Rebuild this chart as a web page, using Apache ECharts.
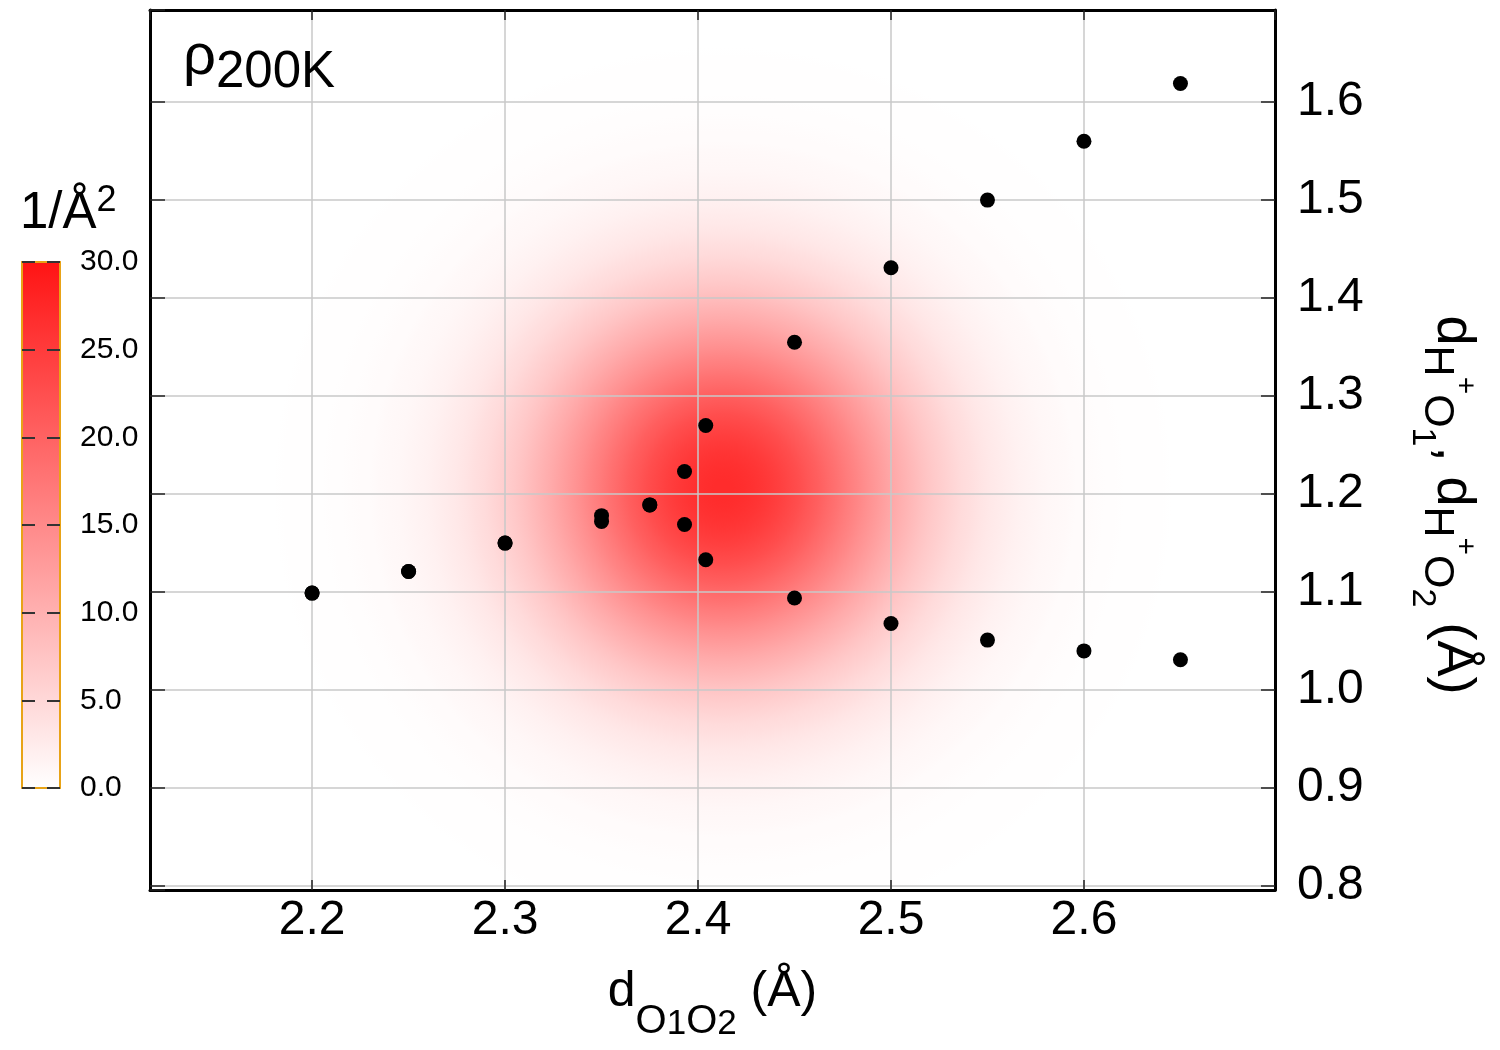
<!DOCTYPE html>
<html>
<head>
<meta charset="utf-8">
<script src="https://cdn.jsdelivr.net/npm/echarts@6/dist/echarts.min.js"></script>
<style>
html,body{margin:0;padding:0;background:#fff;}
#chart{width:1500px;height:1050px;}
</style>
</head>
<body>
<div id="chart"></div>
<script>
// ---- data ----
const dOO  = [2.200, 2.250, 2.300, 2.350, 2.375, 2.393, 2.404, 2.450, 2.500, 2.550, 2.600, 2.650];
const dHO1 = [1.099, 1.121, 1.150, 1.172, 1.189, 1.169, 1.133, 1.094, 1.068, 1.051, 1.040, 1.031];
const dHO2 = [1.099, 1.121, 1.150, 1.178, 1.189, 1.223, 1.270, 1.355, 1.431, 1.500, 1.560, 1.619];
const xRange = [2.116, 2.699];
const yRange = [0.796, 1.694];
// density (rho at 200K): centre, spread, peak
const densityCenter = [2.413, 1.205];
const densitySigma  = [0.066, 0.128];
const densityPeak   = 27;
// colour bar
const cbarMin = 0, cbarMax = 30, cbarStep = 5;
const cmapLow = [255, 255, 255], cmapHigh = [255, 20, 20];

const FONT = 'Liberation Sans';
const fmt1 = v => (Math.round(v * 10) / 10).toFixed(1);

function cmap(v) {
  const f = Math.max(0, Math.min(1, (v - cbarMin) / (cbarMax - cbarMin)));
  const c = cmapLow.map((lo, i) => Math.round(lo + (cmapHigh[i] - lo) * f));
  return 'rgb(' + c.join(',') + ')';
}

const points = [];
dOO.forEach((x, i) => { points.push([x, dHO1[i]]); points.push([x, dHO2[i]]); });

const SPAN = 3.6; // gradient radius in sigmas
function densityStops() {
  const stops = [];
  const n = 48;
  for (let i = 0; i <= n; i++) {
    const t = i / n;
    const r = t * SPAN;
    const v = densityPeak * Math.exp(-r * r / 2);
    stops.push({ offset: t, color: cmap(v) });
  }
  return stops;
}

const frameLine = { show: true, onZero: false, lineStyle: { color: '#000', width: 3 } };
const mainTick = len => ({ show: true, inside: true, length: len, lineStyle: { color: '#222', width: 1.5 } });
const grey = { show: true, lineStyle: { color: '#c8c8c8', width: 1.5 } };
const orange = '#e8a317';
const txt = (size, extra) => Object.assign({ fontSize: size, color: '#000', fontFamily: FONT, fontWeight: 'normal' }, extra || {});

const chart = echarts.init(document.getElementById('chart'));
const option = {
  animation: false,
  backgroundColor: '#ffffff',
  textStyle: { fontFamily: FONT },
  title: [
    { text: '{r|ρ}{s|200K}', left: 178, top: 12,
      textStyle: { fontFamily: FONT, fontWeight: 'normal', rich: {
        r: txt(58),
        s: txt(51, { padding: [30, 0, 0, 0] }) } } },
    { text: '{m|1/Å}{p|2}', left: 15, top: 178,
      textStyle: { fontFamily: FONT, fontWeight: 'normal', rich: {
        m: txt(51),
        p: txt(36, { padding: [0, 0, 26, 0] }) } } }
  ],
  grid: [
    { left: 150, right: 225, top: 10, bottom: 160, outerBoundsMode: 'none', containLabel: false },
    { left: 22, top: 262, width: 38, height: 526, outerBoundsMode: 'none', containLabel: false }
  ],
  xAxis: [
    { gridIndex: 0, type: 'value', min: xRange[0], max: xRange[1], splitNumber: 6, position: 'bottom', z: 3,
      axisLine: frameLine, axisTick: mainTick(10), splitLine: grey,
      axisLabel: { fontSize: 48, color: '#000', margin: 7, fontFamily: FONT, formatter: fmt1, showMinLabel: false, showMaxLabel: false },
      name: '{m|d}{s|O}{n|1}{s|O}{n|2}{m| (Å)}', nameLocation: 'middle', nameGap: 52,
      nameTextStyle: { rich: {
        m: txt(50),
        s: txt(40, { padding: [60, 0, 0, 0] }),
        n: txt(35, { padding: [64, 0, 0, 0] }) } } },
    { gridIndex: 0, type: 'value', min: xRange[0], max: xRange[1], splitNumber: 6, position: 'top', z: 3,
      axisLine: frameLine, axisTick: mainTick(10), splitLine: { show: false }, axisLabel: { show: false } },
    { gridIndex: 1, type: 'category', data: ['cbar'], position: 'bottom', z: 3,
      axisLine: { show: true, onZero: false, lineStyle: { color: orange, width: 2 } },
      axisTick: { show: false }, axisLabel: { show: false }, splitLine: { show: false } },
    { gridIndex: 1, type: 'category', data: ['cbar'], position: 'top', z: 3,
      axisLine: { show: true, onZero: false, lineStyle: { color: orange, width: 2 } },
      axisTick: { show: false }, axisLabel: { show: false }, splitLine: { show: false } }
  ],
  yAxis: [
    { gridIndex: 0, type: 'value', min: yRange[0], max: yRange[1], splitNumber: 9, position: 'left', z: 3,
      axisLine: frameLine, axisTick: mainTick(15), splitLine: { show: false }, axisLabel: { show: false } },
    { gridIndex: 0, type: 'value', min: yRange[0], max: yRange[1], splitNumber: 9, position: 'right', z: 3,
      axisLine: frameLine, axisTick: mainTick(14), splitLine: grey,
      axisLabel: { fontSize: 48, color: '#000', margin: 22, fontFamily: FONT, formatter: fmt1, showMinLabel: false, showMaxLabel: false },
      name: '{m|d}{s|H}{p|+}{s|O}{ss|1}{m|, d}{s|H}{p|+}{s|O}{ss|2}{m| (Å)}',
      nameLocation: 'middle', nameRotate: -90, nameGap: 130,
      nameTextStyle: { padding: [0, 0, 0, 110], rich: {
        m: txt(54),
        s: txt(43, { padding: [32, 0, 0, 0] }),
        ss: txt(34, { padding: [62, 0, 0, 0] }),
        p: txt(30, { padding: [0, 0, 22, 0] }) } } },
    { gridIndex: 1, type: 'value', min: cbarMin, max: cbarMax, interval: cbarStep, position: 'left', z: 3,
      axisLine: { show: true, onZero: false, lineStyle: { color: orange, width: 2 } },
      axisTick: { show: true, inside: true, length: 13, lineStyle: { color: '#333', width: 2 } },
      axisLabel: { show: false }, splitLine: { show: false } },
    { gridIndex: 1, type: 'value', min: cbarMin, max: cbarMax, interval: cbarStep, position: 'right', z: 3,
      axisLine: { show: true, onZero: false, lineStyle: { color: orange, width: 2 } },
      axisTick: { show: true, inside: true, length: 13, lineStyle: { color: '#333', width: 2 } },
      axisLabel: { fontSize: 30, color: '#000', margin: 20, fontFamily: FONT, formatter: fmt1 },
      splitLine: { show: false } }
  ],
  series: [
    { type: 'custom', xAxisIndex: 0, yAxisIndex: 0, z: 1, clip: true, silent: true,
      data: [[densityCenter[0], densityCenter[1], densitySigma[0], densitySigma[1], densityPeak]],
      renderItem: function (params, api) {
        const c = api.coord([api.value(0), api.value(1)]);
        const s = api.size([api.value(2), api.value(3)]);
        const rx = s[0] * SPAN, ry = s[1] * SPAN;
        return {
          type: 'circle', x: c[0], y: c[1], scaleX: 1, scaleY: ry / rx,
          shape: { cx: 0, cy: 0, r: rx },
          style: { fill: { type: 'radial', x: 0.5, y: 0.5, r: 0.5, colorStops: densityStops() } }
        };
      } },
    { type: 'scatter', xAxisIndex: 0, yAxisIndex: 0, z: 5, symbol: 'circle', symbolSize: 15,
      itemStyle: { color: '#000', opacity: 1 }, data: points },
    { type: 'bar', xAxisIndex: 2, yAxisIndex: 2, z: 1, barWidth: '100%', silent: true,
      data: [cbarMax],
      itemStyle: { color: { type: 'linear', x: 0, y: 0, x2: 0, y2: 1,
        colorStops: [{ offset: 0, color: cmap(cbarMax) }, { offset: 1, color: cmap(cbarMin) }] } } }
  ]
};
chart.setOption(option);
</script>
</body>
</html>
